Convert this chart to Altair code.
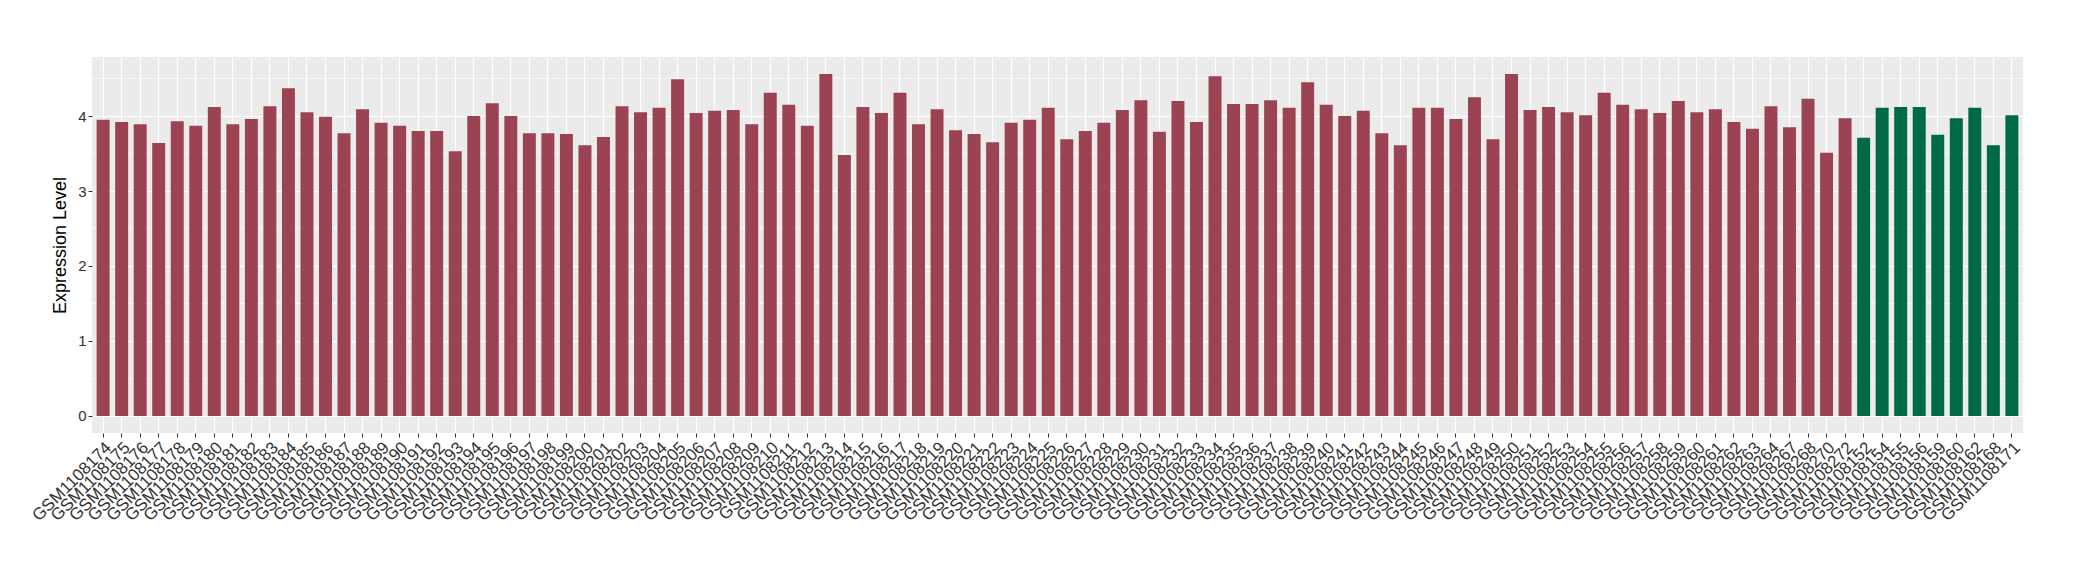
import altair as alt
import pandas as pd

samples_a = [
    "GSM1108174", "GSM1108175", "GSM1108176", "GSM1108177", "GSM1108178", "GSM1108179",
    "GSM1108180", "GSM1108181", "GSM1108182", "GSM1108183", "GSM1108184", "GSM1108185",
    "GSM1108186", "GSM1108187", "GSM1108188", "GSM1108189", "GSM1108190", "GSM1108191",
    "GSM1108192", "GSM1108193", "GSM1108194", "GSM1108195", "GSM1108196", "GSM1108197",
    "GSM1108198", "GSM1108199", "GSM1108200", "GSM1108201", "GSM1108202", "GSM1108203",
    "GSM1108204", "GSM1108205", "GSM1108206", "GSM1108207", "GSM1108208", "GSM1108209",
    "GSM1108210", "GSM1108211", "GSM1108212", "GSM1108213", "GSM1108214", "GSM1108215",
    "GSM1108216", "GSM1108217", "GSM1108218", "GSM1108219", "GSM1108220", "GSM1108221",
    "GSM1108222", "GSM1108223", "GSM1108224", "GSM1108225", "GSM1108226", "GSM1108227",
    "GSM1108228", "GSM1108229", "GSM1108230", "GSM1108231", "GSM1108232", "GSM1108233",
    "GSM1108234", "GSM1108235", "GSM1108236", "GSM1108237", "GSM1108238", "GSM1108239",
    "GSM1108240", "GSM1108241", "GSM1108242", "GSM1108243", "GSM1108244", "GSM1108245",
    "GSM1108246", "GSM1108247", "GSM1108248", "GSM1108249", "GSM1108250", "GSM1108251",
    "GSM1108252", "GSM1108253", "GSM1108254", "GSM1108255", "GSM1108256", "GSM1108257",
    "GSM1108258", "GSM1108259", "GSM1108260", "GSM1108261", "GSM1108262", "GSM1108263",
    "GSM1108264", "GSM1108267", "GSM1108268", "GSM1108270", "GSM1108272",
]
values_a = [
    3.95, 3.92, 3.89, 3.64, 3.93, 3.87,
    4.12, 3.89, 3.96, 4.13, 4.37, 4.05,
    3.99, 3.77, 4.09, 3.91, 3.87, 3.80,
    3.80, 3.53, 4.00, 4.17, 4.00, 3.77,
    3.77, 3.76, 3.61, 3.72, 4.13, 4.05,
    4.11, 4.49, 4.04, 4.07, 4.08, 3.89,
    4.31, 4.15, 3.87, 4.56, 3.48, 4.12,
    4.04, 4.31, 3.89, 4.09, 3.81, 3.76,
    3.65, 3.91, 3.95, 4.11, 3.69, 3.80,
    3.91, 4.08, 4.21, 3.79, 4.20, 3.92,
    4.53, 4.16, 4.16, 4.21, 4.11, 4.45,
    4.15, 4.00, 4.07, 3.77, 3.61, 4.11,
    4.11, 3.96, 4.25, 3.69, 4.56, 4.08,
    4.12, 4.05, 4.01, 4.31, 4.15, 4.09,
    4.04, 4.20, 4.05, 4.09, 3.92, 3.83,
    4.13, 3.85, 4.23, 3.51, 3.97,
]
samples_b = [
    "GSM1108152", "GSM1108154", "GSM1108155", "GSM1108156", "GSM1108159",
    "GSM1108160", "GSM1108162", "GSM1108168", "GSM1108171",
]
values_b = [3.71, 4.11, 4.12, 4.12, 3.75, 3.97, 4.11, 3.61, 4.01]

groups = ["group1", "group2"]
colors = ["#9B4352", "#006A44"]
y_ticks = [0, 1, 2, 3, 4]
minor_grid = [0.5, 1.5, 2.5, 3.5, 4.5]

df = pd.DataFrame({
    "sample": samples_a + samples_b,
    "value": values_a + values_b,
    "group": [groups[0]] * len(samples_a) + [groups[1]] * len(samples_b),
})
order = samples_a + samples_b
minor_df = pd.DataFrame({"y": minor_grid})

FONT = "Liberation Sans"
y_scale = alt.Scale(domain=[-0.228, 4.788], nice=False, zero=False)
x_scale = alt.Scale(paddingInner=0.3, paddingOuter=0.25)

y_axis = alt.Axis(
    title="Expression Level",
    titleFont=FONT,
    titleFontSize=18,
    titleFontWeight="normal",
    titleColor="black",
    titlePadding=8,
    values=y_ticks,
    labelFont=FONT,
    labelFontSize=15,
    labelColor="#333333",
    labelPadding=2,
    tickColor="#333333",
    tickSize=4,
    tickWidth=1,
    grid=True,
    gridColor="white",
    gridWidth=1.2,
    domain=False,
)

minor = alt.Chart(minor_df).mark_rule(color="white", strokeWidth=0.6).encode(
    y=alt.Y("y:Q", scale=y_scale, axis=y_axis)
)

bars = alt.Chart(df).mark_bar().encode(
    x=alt.X(
        "sample:N",
        sort=order,
        scale=x_scale,
        axis=alt.Axis(
            title=None,
            labelAngle=-45,
            labelAlign="right",
            labelBaseline="top",
            labelFontSize=17,
            labelFont=FONT,
            labelColor="#333333",
            labelPadding=2,
            labelOverlap=False,
            labelBound=False,
            tickColor="#333333",
            tickSize=4,
            tickWidth=1,
            bandPosition=0.5,
            grid=True,
            gridColor="white",
            gridWidth=1.2,
            domain=False,
        ),
    ),
    y=alt.Y("value:Q", scale=y_scale, axis=y_axis),
    y2=alt.datum(0),
    color=alt.Color("group:N", scale=alt.Scale(domain=groups, range=colors), legend=None),
)

chart = alt.layer(minor, bars).properties(
    width=1931,
    height=376,
    autosize=alt.AutoSizeParams(type="none"),
    padding={"left": 84, "top": 49, "right": 40, "bottom": 140},
    background="white",
).configure_view(fill="#EBEBEB", stroke=None)

chart.save("out.html", embed_options={"renderer": "svg", "actions": False})
